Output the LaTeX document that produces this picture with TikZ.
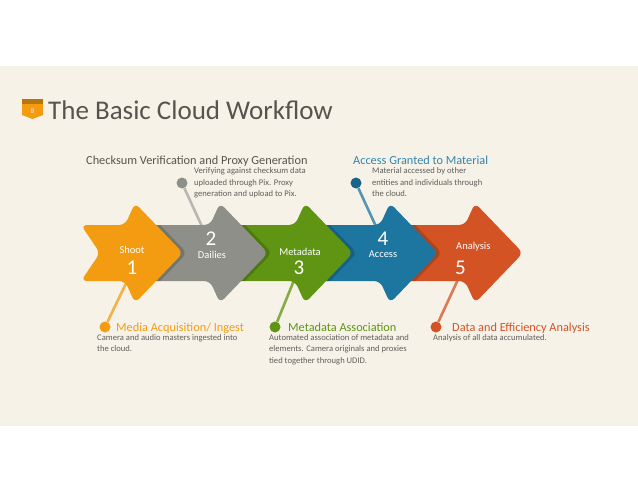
\documentclass[tikz,border=0pt]{standalone}
\usepackage{xcolor}
\usepackage{fontspec}
\setmainfont{Carlito}
\usetikzlibrary{positioning}

\definecolor{bgbeige}{RGB}{247,242,232}
\definecolor{cOrange}{RGB}{243,156,18}
\definecolor{cGray}{RGB}{142,143,136}
\definecolor{cGreen}{RGB}{96,148,19}
\definecolor{cBlue}{RGB}{29,118,160}
\definecolor{cRed}{RGB}{211,83,37}
\definecolor{txtdark}{RGB}{85,85,78}
\definecolor{txtgray}{RGB}{95,95,90}

\newcommand{\chevronpath}[1]{(-#1,-28) -- (-58,-28) -- (-48,-50) -- (0,0) -- (-48,50) -- (-58,28) -- (-#1,28) -- ({-#1+19},0) -- cycle}

\begin{document}
\begin{tikzpicture}[x=1pt, y=-1pt,
			chev/.style={rounded corners=6pt},
			shade/.style={rounded corners=6pt, fill=black, opacity=0.18},
			dot/.style={circle, minimum size=11pt, inner sep=0pt},
			stick/.style={line width=2.6pt, opacity=0.75},
			head/.style={inner sep=0pt, anchor=base west, font=\fontsize{12.3}{14}\selectfont},
			desc/.style={inner sep=0pt, anchor=north west, align=left, text=txtgray, font=\fontsize{8.6}{11.6}\selectfont},
			lab/.style={inner sep=0pt, text=white, font=\fontsize{10.5}{12}\selectfont},
			num/.style={inner sep=0pt, text=white, font=\fontsize{21}{22}\selectfont}]

			\useasboundingbox (0,0) rectangle (638,493);
			\fill[white] (0,0) rectangle (638,493);
			\fill[bgbeige] (0,66) rectangle (638,426);

			\fill[cOrange] (22,99) -- (43,99) -- (43,115) -- (32.5,119) -- (22,115) -- cycle;
			\fill[cOrange!75!black] (22,99) rectangle (43,103.5);
			\node[inner sep=0pt, text=white!80!cOrange, font=\fontsize{7}{8}\selectfont] (badge) at (32.5,111) {8};
			\node[inner sep=0pt, anchor=base west, text=txtdark, font=\fontsize{27}{30}\selectfont] (title) at (48,119) {The Basic Cloud Workflow};

			\coordinate (s1) at (131,273);
			\coordinate (s2) at (205,233);
			\coordinate (s3) at (297,273);
			\coordinate (s4) at (379,233);
			\coordinate (s5) at (461,273);
			\node[dot, fill=cOrange] (d1) at (105,327) {};
			\node[dot, fill=cGray] (d2) at (182,183) {};
			\node[dot, fill=cGreen] (d3) at (275,327) {};
			\node[dot, fill=cBlue!85!black] (d4) at (356,183) {};
			\node[dot, fill=cRed] (d5) at (436,327) {};
			\draw[stick, cOrange] (d1) -- (s1);
			\draw[stick, cGray!80!white] (d2) -- (s2);
			\draw[stick, cGreen] (d3) -- (s3);
			\draw[stick, cBlue] (d4) -- (s4);
			\draw[stick, cRed] (d5) -- (s5);

			\fill[chev, cRed, shift={(523,253)}] \chevronpath{120};
			\begin{scope}
				\clip[chev, shift={(523,253)}] \chevronpath{120};
				\fill[shade, shift={(442,253)}] \chevronpath{120};
			\end{scope}
			\fill[chev, cBlue, shift={(438,253)}] \chevronpath{120};
			\begin{scope}
				\clip[chev, shift={(438,253)}] \chevronpath{120};
				\fill[shade, shift={(357,253)}] \chevronpath{120};
			\end{scope}
			\fill[chev, cGreen, shift={(353,253)}] \chevronpath{120};
			\begin{scope}
				\clip[chev, shift={(353,253)}] \chevronpath{120};
				\fill[shade, shift={(272,253)}] \chevronpath{120};
			\end{scope}
			\fill[chev, cGray, shift={(268,253)}] \chevronpath{120};
			\begin{scope}
				\clip[chev, shift={(268,253)}] \chevronpath{120};
				\fill[shade, shift={(187,253)}] \chevronpath{102};
			\end{scope}
			\fill[chev, cOrange, shift={(183,253)}] \chevronpath{102};

			\node[lab] (shoot) at (132,250) {Shoot};
			\node[num] (n1) at (132,268) {1};
			\node[num] (n2) at (211,239) {2};
			\node[lab] (dailies) at (212,255) {Dailies};
			\node[lab] (meta) at (300,252) {Metadata};
			\node[num] (n3) at (299,268) {3};
			\node[num] (n4) at (383,239) {4};
			\node[lab] (access) at (383,254) {Access};
			\node[lab, anchor=west] (analysis) at (456,247) {Analysis};
			\node[num, anchor=west] (n5) at (455,268) {5};

			\node[head, text=txtdark] (h2) at (86,164) {Checksum Verification and Proxy Generation};
			\node[desc] (t2) at (194,167.5) {Verifying against checksum data\\uploaded through Pix. Proxy\\generation and upload to Pix.};
			\node[head, text=cBlue!90!white] (h4) at (353,164) {Access Granted to Material};
			\node[desc] (t4) at (372,167.5) {Material accessed by other\\entities and individuals through\\the cloud.};
			\node[head, text=cOrange] (h1) at (116,331) {Media Acquisition/ Ingest};
			\node[desc] (t1) at (97,334) {Camera and audio masters ingested into\\the cloud.};
			\node[head, text=cGreen] (h3) at (288,331) {Metadata Association};
			\node[desc] (t3) at (269,334) {Automated association of metadata and\\elements. Camera originals and proxies\\tied together through UDID.};
			\node[head, text=cRed] (h5) at (452,331) {Data and Efficiency Analysis};
			\node[desc] (t5) at (433,334) {Analysis of all data accumulated.};
		\end{tikzpicture}
\end{document}
